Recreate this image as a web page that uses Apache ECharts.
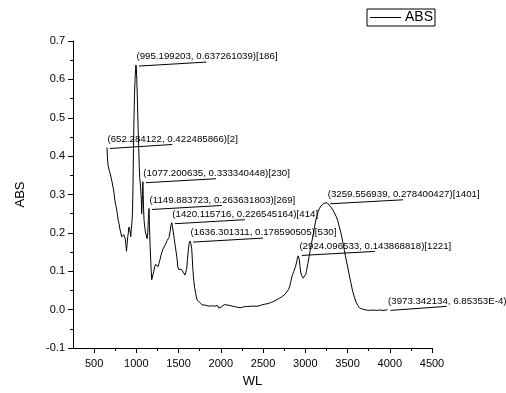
<!DOCTYPE html>
<html>
<head>
<meta charset="utf-8">
<script src="https://cdn.jsdelivr.net/npm/echarts@6/dist/echarts.min.js"></script>
<style>
html,body{margin:0;padding:0;background:#fff;}
#chart{width:506px;height:393px;}
</style>
</head>
<body>
<div id="chart"></div>
<script>
// ---- data ----
var wl = [652.28,658,665,672,680,690,700,713,725,735,745,752,757,765,775,785,795,805,816,825,831,840,851,860,868,876,883,890,898,905,912,918,925,934,940,949,955,961,966,972,978,985,990,995.2,1000,1005,1012,1020,1028,1035,1040,1050,1058,1063,1068,1073,1077.2,1081,1086,1091,1100,1107,1116,1126,1135,1142,1149.9,1155,1162,1170,1176,1182,1190,1198,1207,1217,1227,1237,1247,1257,1267,1277,1290,1300,1310,1320,1336,1350,1363,1375,1387,1400,1410,1420.1,1428,1436,1448,1462,1472,1481,1490,1500,1510,1521,1533,1545,1556,1566,1575,1585,1595,1605,1615,1625,1636.3,1645,1655,1663,1670,1680,1690,1700,1710,1720,1735,1750,1765,1780,1795,1810,1825,1840,1855,1870,1885,1900,1915,1930,1945,1960,1975,1990,2005,2020,2040,2060,2080,2100,2120,2140,2160,2180,2200,2220,2240,2260,2280,2300,2320,2340,2360,2380,2400,2420,2440,2460,2480,2500,2520,2540,2560,2580,2600,2620,2640,2660,2680,2700,2720,2740,2760,2780,2800,2815,2825,2833,2840,2845,2855,2865,2875,2885,2895,2905,2915,2924.1,2930,2937,2945,2955,2965,2975,2985,2995,3005,3015,3030,3045,3058,3075,3089,3105,3120,3135,3150,3168,3185,3200,3220,3240,3259.6,3280,3300,3320,3345,3365,3384,3400,3424,3445,3463,3480,3502,3520,3542,3560,3582,3600,3621,3640,3660,3680,3700,3720,3740,3760,3780,3800,3820,3840,3860,3880,3900,3920,3940,3960,3973.3];
var absv = [0.4225,0.395,0.376,0.372,0.362,0.355,0.345,0.332,0.318,0.305,0.285,0.29,0.272,0.262,0.25,0.232,0.225,0.21,0.2,0.19,0.185,0.19,0.195,0.2,0.185,0.17,0.152,0.17,0.19,0.2,0.215,0.212,0.205,0.19,0.21,0.23,0.26,0.33,0.42,0.5,0.56,0.6,0.625,0.6373,0.63,0.6,0.55,0.48,0.42,0.37,0.345,0.32,0.29,0.25,0.245,0.3,0.3333,0.3,0.26,0.233,0.215,0.202,0.195,0.185,0.2,0.235,0.2636,0.22,0.17,0.13,0.1,0.078,0.085,0.09,0.1,0.112,0.118,0.12,0.115,0.112,0.12,0.128,0.14,0.148,0.152,0.16,0.165,0.172,0.18,0.182,0.188,0.205,0.22,0.2265,0.215,0.205,0.185,0.163,0.148,0.135,0.112,0.105,0.108,0.11,0.105,0.103,0.097,0.092,0.09,0.095,0.105,0.13,0.155,0.172,0.1786,0.172,0.16,0.13,0.102,0.075,0.058,0.045,0.033,0.025,0.021,0.019,0.014,0.012,0.01,0.012,0.008,0.01,0.007,0.009,0.006,0.01,0.005,0.009,0.006,0.011,0.004,0.009,0.007,0.012,0.013,0.014,0.012,0.013,0.01,0.011,0.008,0.01,0.006,0.008,0.005,0.007,0.008,0.006,0.008,0.007,0.009,0.008,0.009,0.01,0.009,0.011,0.012,0.013,0.014,0.015,0.016,0.017,0.019,0.021,0.023,0.025,0.028,0.03,0.033,0.036,0.04,0.045,0.052,0.06,0.07,0.077,0.082,0.089,0.094,0.1,0.105,0.113,0.122,0.132,0.14,0.1439,0.13,0.112,0.098,0.09,0.085,0.082,0.081,0.085,0.092,0.102,0.12,0.138,0.155,0.175,0.19,0.21,0.228,0.242,0.254,0.264,0.27,0.275,0.277,0.278,0.2784,0.275,0.268,0.262,0.252,0.243,0.232,0.218,0.198,0.175,0.154,0.134,0.111,0.09,0.068,0.048,0.032,0.02,0.011,0.005,0.002,0.001,0.0,-0.001,0.001,-0.002,0.0,-0.001,0.002,-0.002,0.0,-0.001,0.001,-0.002,0.0,-0.001,0.000685];

var annX = [995.199203,652.284122,1077.200635,1149.883723,1420.115716,1636.301311,2924.096533,3259.556939,3973.342134];
var annY = [0.637261039,0.422485866,0.333340448,0.263631803,0.226545164,0.178590505,0.143868818,0.278400427,0.000685353];
var annText = [
  "(995.199203, 0.637261039)[186]",
  "(652.284122, 0.422485866)[2]",
  "(1077.200635, 0.333340448)[230]",
  "(1149.883723, 0.263631803)[269]",
  "(1420.115716, 0.226545164)[414]",
  "(1636.301311, 0.178590505)[530]",
  "(2924.096533, 0.143868818)[1221]",
  "(3259.556939, 0.278400427)[1401]",
  "(3973.342134, 6.85353E-4)"
];
var xMajor = [500,1000,1500,2000,2500,3000,3500,4000,4500];
var xMinor = [750,1250,1750,2250,2750,3250,3750,4250];

// ---- build ----
var FONT = '"Liberation Sans", Arial, sans-serif';
var ANN_FONT = '9.7px ' + FONT;
var seriesData = wl.map(function (x, i) { return [x, absv[i]]; });
var annData = annX.map(function (x, i) { return [x, annY[i], i]; });

var measureCtx = document.createElement('canvas').getContext('2d');
measureCtx.font = ANN_FONT;

var chart = echarts.init(document.getElementById('chart'), null, {renderer: 'canvas'});
var axisLineStyle = {color: '#000', width: 1};
chart.setOption({
  animation: false,
  backgroundColor: '#fff',
  textStyle: {fontFamily: FONT},
  grid: {left: 73, right: 74, top: 41, bottom: 45, containLabel: false},
  legend: {
    data: [{name: 'ABS', icon: 'rect'}],
    left: 367, top: 9,
    orient: 'horizontal',
    borderColor: '#000', borderWidth: 1, borderRadius: 0,
    padding: [1, 2, 1, 3],
    itemWidth: 31, itemHeight: 1, itemGap: 0,
    itemStyle: {color: '#000', borderWidth: 0},
    lineStyle: {width: 0},
    textStyle: {fontSize: 14, lineHeight: 15, color: '#000', fontFamily: FONT, padding: [0, 0, 0, -1]}
  },
  xAxis: [{
    type: 'value', min: 250, max: 4500,
    name: 'WL', nameLocation: 'middle', nameGap: 27,
    nameTextStyle: {fontSize: 13, color: '#000', fontFamily: FONT},
    axisLine: {show: true, onZero: false, lineStyle: axisLineStyle},
    axisTick: {show: true, length: 5, lineStyle: axisLineStyle, customValues: xMajor},
    axisLabel: {show: true, fontSize: 11, color: '#000', margin: 10, customValues: xMajor, fontFamily: FONT,
      formatter: function (v) { return String(Math.round(v)); }},
    splitLine: {show: false}
  }, {
    type: 'value', min: 250, max: 4500, position: 'bottom', offset: 0,
    axisLine: {show: false, onZero: false},
    axisTick: {show: true, length: 3, lineStyle: axisLineStyle, customValues: xMinor},
    axisLabel: {show: false},
    splitLine: {show: false}
  }],
  yAxis: {
    type: 'value', min: -0.1, max: 0.7, interval: 0.1,
    name: 'ABS', nameLocation: 'middle', nameGap: 46, nameRotate: 90,
    nameTextStyle: {fontSize: 13, color: '#000', fontFamily: FONT},
    axisLine: {show: true, onZero: false, lineStyle: axisLineStyle},
    axisTick: {show: true, length: 5, lineStyle: axisLineStyle},
    minorTick: {show: true, splitNumber: 2, length: 3, lineStyle: axisLineStyle},
    axisLabel: {fontSize: 11, color: '#000', margin: 8, fontFamily: FONT,
      formatter: function (v) { return (Math.round(v * 10) / 10).toFixed(1); }},
    splitLine: {show: false}
  },
  series: [{
    name: 'ABS', type: 'line', data: seriesData,
    xAxisIndex: 0,
    symbol: 'none', showSymbol: false,
    lineStyle: {color: '#000', width: 1},
    itemStyle: {color: '#000'},
    clip: true
  }, {
    name: 'ann', type: 'custom', data: annData, xAxisIndex: 0,
    clip: false, silent: true,
    encode: {x: 0, y: 1},
    renderItem: function (params, api) {
      var p = api.coord([api.value(0), api.value(1)]);
      var txt = annText[api.value(2)];
      var w = measureCtx.measureText(txt).width;
      return {
        type: 'group',
        children: [{
          type: 'line',
          shape: {x1: p[0] + 3, y1: p[1] + 1, x2: p[0] + w / 2, y2: p[1] - 3},
          style: {stroke: '#000', lineWidth: 1}
        }, {
          type: 'text',
          x: p[0] + 0.5, y: p[1] - 8.5,
          style: {text: txt, fill: '#000', font: ANN_FONT, textAlign: 'left', textVerticalAlign: 'middle'}
        }]
      };
    }
  }]
});
</script>
</body>
</html>
